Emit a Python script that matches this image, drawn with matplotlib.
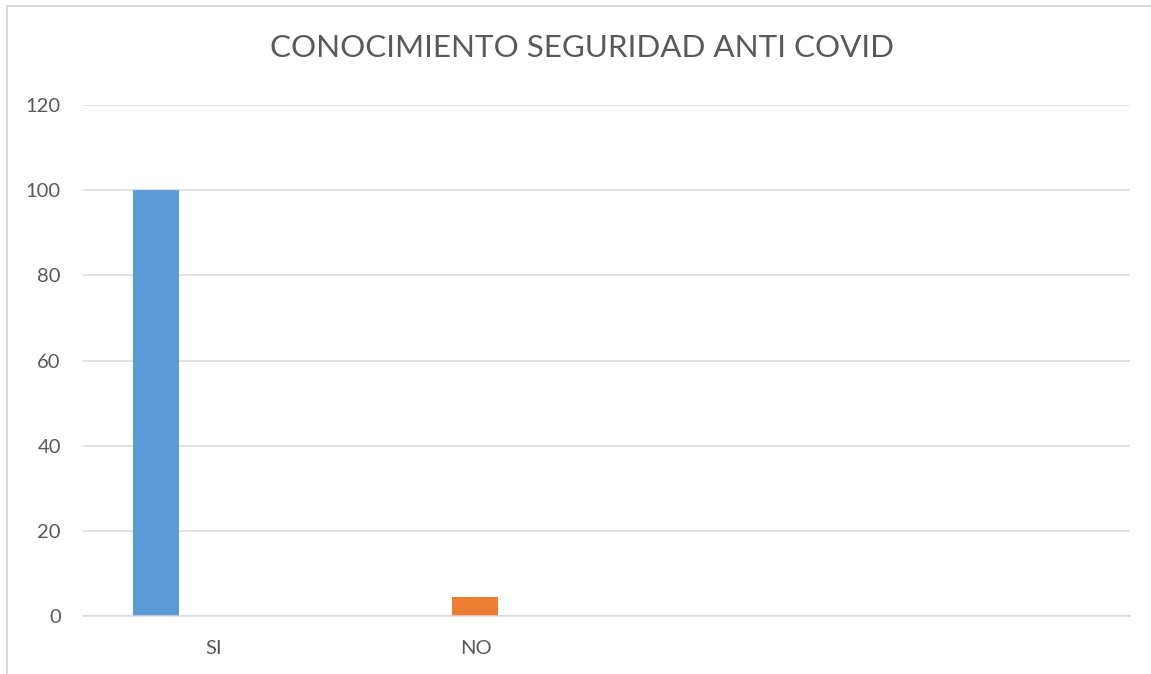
import numpy as np
import matplotlib.pyplot as plt
from matplotlib.lines import Line2D

categories = ["SI", "NO", "", ""]
serie_si = [100, 0, 0, 0]
serie_no = [0, 4.4, 0, 0]
yticks = [0, 20, 40, 60, 80, 100, 120]

W, H = 1151, 674
plt.rcParams['font.family'] = ['Lato', 'DejaVu Sans']

fig = plt.figure(figsize=(W / 100, H / 100), dpi=100)
ax = fig.add_axes([83 / W, 1 - 616 / H, (1130 - 83) / W, (616 - 105) / H])

x = np.arange(len(categories))
ax.bar(x - 0.221, serie_si, width=0.176, color="#5B9BD5", zorder=3)
ax.bar(x - 0.003, serie_no, width=0.176, color="#ED7D31", zorder=3)

ax.set_xlim(-0.5, len(categories) - 0.5)
ax.set_ylim(0, 120)
ax.set_yticks(yticks)
ax.set_xticks(x)
ax.set_xticklabels(categories)
ax.yaxis.grid(True, color="#D9D9D9", linewidth=1.1, zorder=0)
ax.set_axisbelow(True)

for s in ["top", "right", "left"]:
    ax.spines[s].set_visible(False)
ax.spines["bottom"].set_color("#D9D9D9")
ax.spines["bottom"].set_linewidth(1.1)
ax.spines["bottom"].set_zorder(4)

ax.tick_params(axis="both", length=0, labelsize=14.5, labelcolor="#595959")
ax.tick_params(axis="y", pad=16)
ax.tick_params(axis="x", pad=17)

fig.text(582 / W, 1 - 48 / H, "CONOCIMIENTO SEGURIDAD ANTI COVID",
         ha="center", va="center", fontsize=22.6, color="#595959")

# borde del grafico
fig.add_artist(Line2D([7 / W, 1], [1 - 6 / H, 1 - 6 / H], color="#D9D9D9", lw=1.5))
fig.add_artist(Line2D([7 / W, 7 / W], [0, 1 - 6 / H], color="#D9D9D9", lw=1.5))

fig.savefig("out.png", dpi=100)
